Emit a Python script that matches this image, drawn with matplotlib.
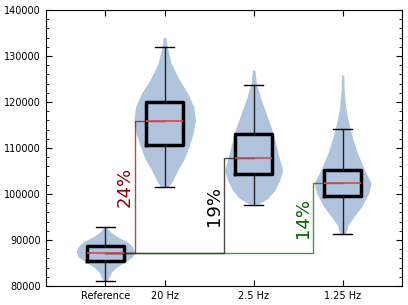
import numpy as np
import matplotlib
matplotlib.use('Agg')
import matplotlib.pyplot as plt
from matplotlib.ticker import MultipleLocator

# 그룹 이름과 위치
labels = ['Reference', '20 Hz', '2.5 Hz', '1.25 Hz']
positions = [1, 2, 3.5, 5]

# 박스플롯 통계
whislo = [81100, 101600, 97600, 91300]
q1 = [85500, 110600, 104300, 99600]
med = [87100, 115900, 107900, 102350]
q3 = [88600, 119900, 113100, 105300]
whishi = [92900, 131900, 123800, 114100]

# 바이올린 윤곽: y 값과 반폭 (x 단위)
ref_y = [92900, 91800, 90720, 89630, 88540, 87460, 86370, 85280, 84200, 83110, 82020, 81090]
ref_w = [0.02, 0.085, 0.2, 0.37, 0.46, 0.49, 0.46, 0.34, 0.2, 0.11, 0.07, 0.03]
hz20_y = [134060, 132000, 128400, 124770, 121880, 118970, 116080, 113190, 110290, 107390, 105220, 103040, 101590]
hz20_w = [0.02, 0.045, 0.11, 0.25, 0.39, 0.49, 0.52, 0.48, 0.41, 0.32, 0.22, 0.14, 0.07]
hz25_y = [126960, 124050, 121150, 117530, 113910, 111010, 107390, 105220, 103040, 100870, 99060, 97820]
hz25_w = [0.02, 0.045, 0.11, 0.21, 0.31, 0.37, 0.44, 0.49, 0.44, 0.36, 0.24, 0.08]
hz125_y = [125870, 122610, 118970, 116080, 112460, 108840, 105220, 102320, 100150, 97240, 95070, 93260, 91450]
hz125_w = [0.02, 0.025, 0.05, 0.09, 0.16, 0.25, 0.37, 0.48, 0.44, 0.32, 0.19, 0.09, 0.05]

# 개선율 텍스트
pct_labels = ['24%', '19%', '14%']
pct_colors = ['darkred', 'black', 'darkgreen']

fig = plt.figure(figsize=(4.08, 3.05), dpi=100)
ax = fig.add_axes([46/408, 19/305, 356/408, 276/305])

# 바이올린
profiles = [(ref_y, ref_w), (hz20_y, hz20_w), (hz25_y, hz25_w), (hz125_y, hz125_w)]
for p, (ys, ws) in zip(positions, profiles):
    ys = np.array(ys)
    ws = np.array(ws)
    ax.fill_betweenx(ys, p - ws, p + ws, color='#b0c4de', lw=0, zorder=1)

# 박스플롯
stats = []
for i in range(4):
    stats.append({'whislo': whislo[i], 'q1': q1[i], 'med': med[i],
                  'q3': q3[i], 'whishi': whishi[i], 'fliers': []})
ax.bxp(stats, positions=positions, widths=0.62, showfliers=False, patch_artist=False,
       boxprops=dict(color='black', lw=2.5),
       medianprops=dict(color='#e8404f', lw=1.2),
       whiskerprops=dict(color='#222222', lw=1, linestyle='-'),
       capprops=dict(color='black', lw=1), manage_ticks=False)

# 기준선 대비 계단선
for i in range(3):
    p = positions[i + 1]
    m = med[i + 1]
    c = pct_colors[i]
    ax.plot([positions[0], p - 0.5, p - 0.5, p], [med[0], med[0], m, m],
            color=c, alpha=0.7, lw=1, zorder=2)
    ax.text(p - 0.52, (med[0] + m) / 2, pct_labels[i], rotation=90, color=c,
            fontsize=13, ha='right', va='center')

ax.set_xlim(0, 6)
ax.set_ylim(80000, 140000)
ax.set_xticks(positions)
ax.set_xticklabels(labels)
ax.yaxis.set_major_locator(MultipleLocator(10000))
ax.yaxis.set_minor_locator(MultipleLocator(2000))
ax.tick_params(which='both', direction='in', top=True, right=True, labelsize=7)
ax.tick_params(which='major', length=4)
ax.tick_params(which='minor', length=2)

plt.savefig('out.png', dpi=100)
